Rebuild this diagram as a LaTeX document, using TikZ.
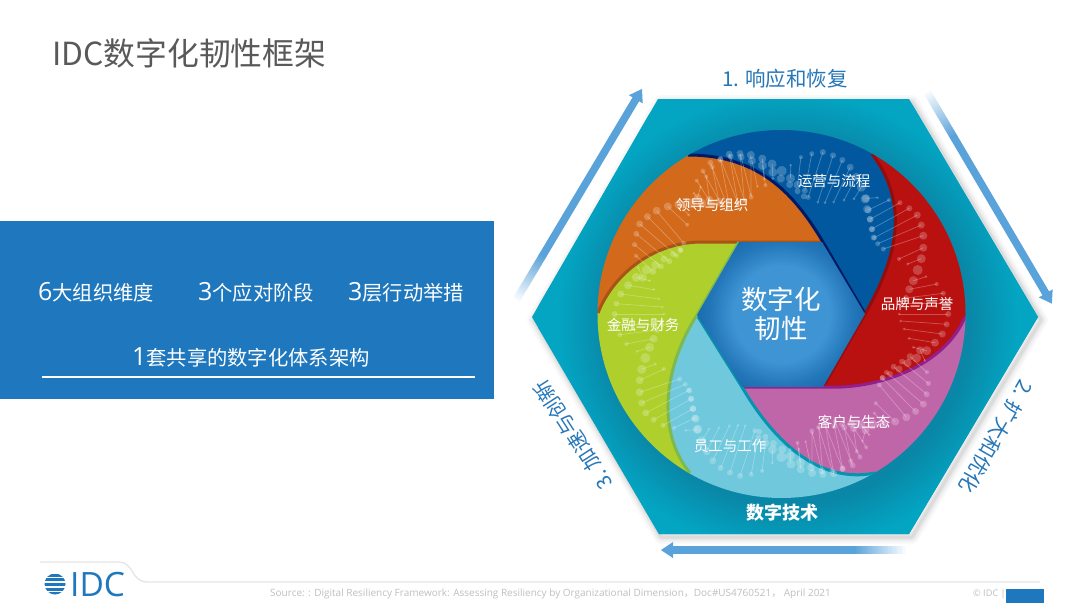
\documentclass[tikz,border=0pt]{standalone}
\usepackage{fontspec}
\setmainfont{Noto Sans CJK SC}
\newfontfamily\latinf{Open Sans}
\newfontfamily\cjkf{Noto Sans CJK SC}
\usetikzlibrary{calc}
\definecolor{teal1}{HTML}{03A5C3}
\definecolor{teal2}{HTML}{0A86A6}
\definecolor{panelblue}{HTML}{1F77BD}
\definecolor{arrowblue}{HTML}{5AA2DA}
\definecolor{labelblue}{HTML}{2677B8}
\definecolor{cOrange}{HTML}{D2691B}
\definecolor{cBlue}{HTML}{02589E}
\definecolor{cRed}{HTML}{B91010}
\definecolor{cPink}{HTML}{BF66A8}
\definecolor{cLight}{HTML}{70C8DC}
\definecolor{cGreen}{HTML}{AECF2C}
\definecolor{coreA}{HTML}{3F94D4}
\definecolor{coreB}{HTML}{2276B8}
\definecolor{coreC}{HTML}{1B6CAD}
\pgfdeclareradialshading{hexglow}{\pgfpoint{0bp}{0bp}}{%
  color(0bp)=(teal2); color(18bp)=(teal2); color(23bp)=(teal1); color(50bp)=(teal1)}
\pgfdeclareradialshading{corehex}{\pgfpoint{0bp}{0bp}}{%
  color(0bp)=(coreA); color(12bp)=(coreA); color(18bp)=(coreB); color(21bp)=(coreC); color(50bp)=(coreC)}
\tikzset{
  x=1pt,y=-1pt,
  petal label/.style={text=white,font=\fontsize{14.5}{15}\selectfont,inner sep=0pt},
  side label/.style={text=labelblue,font=\fontsize{20.5}{21}\selectfont,inner sep=0pt},
  panel text/.style={text=white,anchor=west,inner sep=0pt,font=\fontsize{20.3}{22}\selectfont},
  rung/.style={draw=white,draw opacity=.27,line width=.75pt},
  bead/.style={fill=white,fill opacity=.22},
  strip/.style={line width=3pt},
}
\newcommand{\dgt}[1]{{\latinf\fontsize{25}{25}\selectfont #1}}
\newcommand{\dnaunit}[1]{%
  \begin{scope}[rotate around={#1:(781.5,314)}]
  \foreach \ax/\ay/\ar/\bx/\by/\br in {
    866/198.3/4/877.3/197.7/1.5,
    868.3/210/3.5/889/200/2,
    870/219.3/3/900/202.7/2.5,
    871.7/229/3/909.3/208.3/3,
    874.3/237.7/2.5/917.3/215/3.5,
    877.7/243.7/2.5/921.3/225/3.5,
    883.3/249/2.5/923.3/235.7/4,
    899/259/2/923.3/247.7/4,
    907.7/264/1.7/921.3/258.7/4.5,
    926/276.7/1.5/913.3/280.7/4.5,
    936.7/284/2/909.3/289.3/4,
    943.3/293.3/2.5/906/298/3,
    948.3/303.3/3/900.7/303.3/2.5,
    948.3/314/3/899/314/1.5,
    946.7/324.3/3/900.7/321/1.5,
    942.3/334/3.5/904/329/1.5,
    935/342.7/4/909/338.3/1.5,
    926.7/350.7/4.5/913.3/347.3/1.5}{
    \draw[rung] (\ax,\ay) -- (\bx,\by);
    \fill[bead] (\ax,\ay) circle (\ar pt);
    \fill[bead] (\bx,\by) circle (\br pt);
  }
  \foreach \ax/\ay/\ar in {917.7/270/5,916.7/358/4.5,907.7/363/4,899/369/3.5,890/374/3,882.7/378/3}{
    \fill[bead] (\ax,\ay) circle (\ar pt);
  }
  \end{scope}}
% long straight arrow, with a faded tail: start, angle, length
\newcommand{\fadearrow}[3]{%
  \begin{scope}[shift={#1},rotate=#2]
    \foreach \i in {0,...,21}{
      \pgfmathsetmacro{\pc}{\i*100/21}
      \fill[color=arrowblue!\pc!white] ({\i*2.5},-3.8) rectangle ({\i*2.5+2.8},3.8);
    }
    \fill[arrowblue] (55,-3.8) rectangle (#3-11,3.8);
    \fill[arrowblue] (#3,0) -- (#3-12,-8) -- (#3-12,8) -- cycle;
  \end{scope}}
\begin{document}
\begin{tikzpicture}
\useasboundingbox (0,0) rectangle (1080,608);
\fill[white] (0,0) rectangle (1080,608);

% title
\node[anchor=west,inner sep=0pt,text=black!65,font=\fontsize{31.8}{32}\selectfont] (title) at (52,53) {IDC数字化韧性框架};

% left panel
\fill[panelblue] (0,221) rectangle (494,399);
\node[panel text] (t1) at (38,292) {\dgt{6}大组织维度};
\node[panel text] (t2) at (198,292) {\dgt{3}个应对阶段};
\node[panel text] (t3) at (348,292) {\dgt{3}层行动举措};
\node[panel text] (t4) at (132,357) {\dgt{1}套共享的数字化体系架构};
\draw[white,line width=2pt] (42,377) -- (475,377);

% hexagon soft shadow
\foreach \w/\o in {14/.025,10/.03,6/.04,3/.05}{
  \draw[black,opacity=\o,line width=\w pt,line join=round]
    (661,102) -- (912,102) -- (1041,320) -- (912,537) -- (661,537) -- (534,320) -- cycle;
}
% hexagon
\begin{scope}
  \clip (658,99) -- (909,99) -- (1038,317) -- (909,534) -- (659,534) -- (532,317) -- cycle;
  \fill[teal1] (500,80) rectangle (1060,550);
  \shade[shading=hexglow] (788,322) circle (250pt);
\end{scope}

% shutter petals
\begin{scope}
  \clip (781.5,314) circle (184pt);
  \fill[cOrange] (598,313) .. controls (612,277) and (650,243) .. (700,242) -- (823,242)
     .. controls (795,195) and (760,155) .. (688,155) -- (640,100) -- (540,200) -- (560,313) -- cycle;
  \fill[cBlue] (688,155) .. controls (760,155) and (795,195) .. (823,242) -- (865,314)
     .. controls (890,270) and (915,210) .. (872,154) -- (890,110) -- (680,110) -- cycle;
  \fill[cRed] (872,154) .. controls (915,210) and (890,270) .. (865,314) -- (823,387)
     .. controls (880,390) and (945,365) .. (965,317) -- (1000,317) -- (1000,120) -- (890,120) -- cycle;
  \fill[cPink] (965,317) .. controls (945,365) and (880,390) .. (823,387) -- (742,387)
     .. controls (770,435) and (815,485) .. (875,473) -- (900,520) -- (1000,400) -- (1000,317) -- cycle;
  \fill[cLight] (875,473) .. controls (815,485) and (770,435) .. (742,387) -- (697,315)
     .. controls (665,365) and (655,430) .. (690,473) -- (680,520) -- (900,520) -- cycle;
  \fill[cGreen] (690,473) .. controls (655,430) and (665,365) .. (697,315) -- (739,242) -- (700,242)
     .. controls (650,243) and (612,277) .. (598,313) -- (560,313) -- (560,500) -- (680,500) -- cycle;
  % darker rims
  \draw[strip,color=cOrange!80!black] (598,313) .. controls (612,277) and (650,243) .. (700,242) -- (823,242);
  \draw[strip,color=blue!30!black!70!cBlue] (688,155) .. controls (760,155) and (795,195) .. (823,242) -- (865,314);
  \draw[strip,color=cRed!80!black] (872,154) .. controls (915,210) and (890,270) .. (865,314) -- (823,387);
  \draw[strip,color=violet!70!cPink] (965,317) .. controls (945,365) and (880,390) .. (823,387) -- (742,387);
  \draw[strip,color=teal1!90!black] (875,473) .. controls (815,485) and (770,435) .. (742,387) -- (697,315);
  \draw[strip,color=cGreen!70!teal2] (690,473) .. controls (655,430) and (665,365) .. (697,315) -- (739,242);
  % DNA ribbons
  \dnaunit{0}
  \dnaunit{-68.5}
  \dnaunit{72}
  \dnaunit{180}
  \dnaunit{-248.5}
  \dnaunit{-108}
\end{scope}

% centre hexagon
\begin{scope}
  \clip (739,242) -- (822,242) -- (865,314) -- (823,387) -- (742,387) -- (697,315) -- cycle;
  \shade[shading=corehex] (781.5,314) circle (100pt);
\end{scope}
\node[text=white,align=center,inner sep=0pt,font=\fontsize{26.5}{29}\selectfont] (core) at (781,314) {数字化\\韧性};

% petal labels
\node[petal label] (p1) at (834,181) {运营与流程};
\node[petal label] (p2) at (712,205) {领导与组织};
\node[petal label] (p3) at (917,304) {品牌与声誉};
\node[petal label] (p4) at (854,422) {客户与生态};
\node[petal label] (p5) at (730,446) {员工与工作};
\node[petal label] (p6) at (643,325) {金融与财务};
\node[text=white,inner sep=0pt,font=\fontsize{18}{19}\selectfont\bfseries] (tech) at (782,513) {数字技术};

% side labels
\node[side label] (s1) at (785,79) {1. 响应和恢复};
\node[side label,rotate=-120] (s2) at (996,437) {2. 扩大和优化};
\node[side label,rotate=123] (s3) at (573,435) {3. 加速与创新};

% arrows
\fadearrow{(515,302)}{59.2}{248}
\fadearrow{(926,90)}{-59.5}{248}
\fadearrow{(908,550)}{180}{247}

% footer
\draw[black!10,line width=1.3pt] (40,562) -- (118,562) .. controls (135,562) and (130,582) .. (148,582) -- (1040,582);
\begin{scope}
  \clip (55,584) circle (10.5pt);
  \foreach \y/\h in {573.5/3,578/3.2,583/3,587.5/3,592/3}{
    \fill[panelblue] (44,\y) rectangle (66,\y+\h);
  }
\end{scope}
\node[anchor=west,inner sep=0pt,text=panelblue,font=\latinf\fontsize{33.5}{34}\selectfont] (logo) at (70,585) {IDC};
\node[anchor=west,inner sep=0pt,text=black!25,font=\latinf\fontsize{10}{11}\selectfont] (src) at (270,594)
  {Source: : Digital Resiliency Framework: Assessing Resiliency by Organizational Dimension{\cjkf ，}Doc\#US4760521{\cjkf ，} April 2021};
\node[anchor=west,inner sep=0pt,text=black!25,font=\latinf\fontsize{9.2}{10}\selectfont] (copy) at (973,594) {© IDC |};
\fill[panelblue] (1006,589) rectangle (1044,603);
\end{tikzpicture}
\end{document}
